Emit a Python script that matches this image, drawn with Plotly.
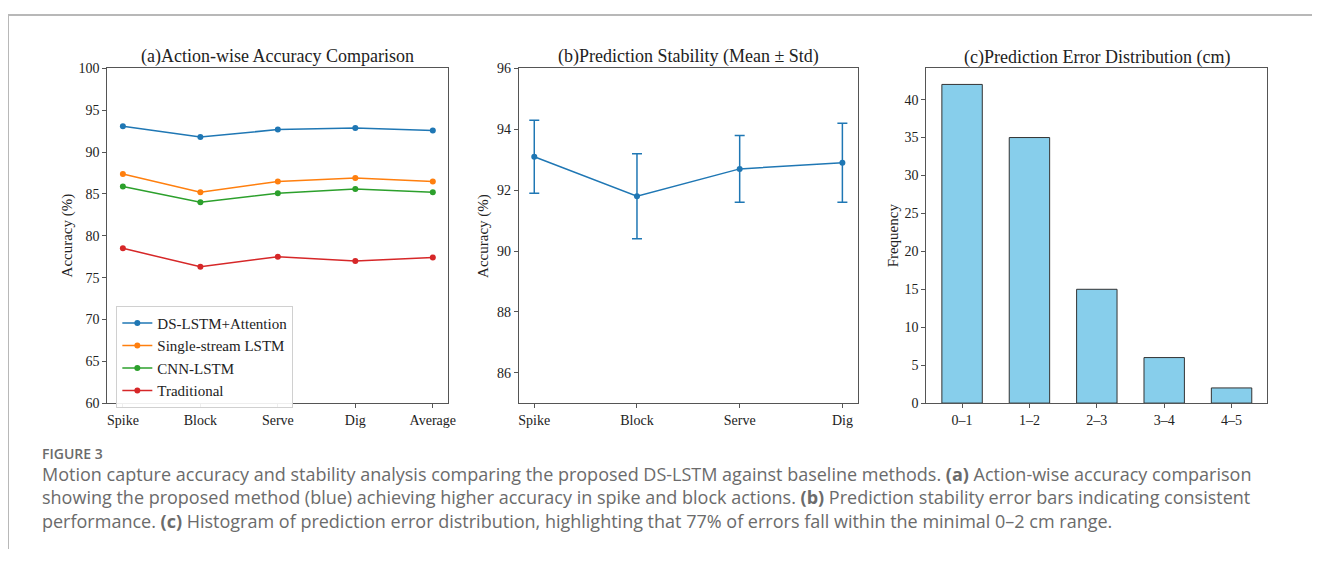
import plotly.graph_objects as go

# ---------------- data ----------------
actions_a = ["Spike", "Block", "Serve", "Dig", "Average"]
ds_lstm_att = [93.1, 91.8, 92.7, 92.9, 92.6]
single_lstm = [87.4, 85.2, 86.5, 86.9, 86.5]
cnn_lstm = [85.9, 84.0, 85.1, 85.6, 85.2]
traditional = [78.5, 76.3, 77.5, 77.0, 77.4]
series_names = ["DS-LSTM+Attention", "Single-stream LSTM", "CNN-LSTM", "Traditional"]

actions_b = ["Spike", "Block", "Serve", "Dig"]
stab_mean = [93.1, 91.8, 92.7, 92.9]
stab_std = [1.2, 1.4, 1.1, 1.3]

err_bins = ["0–1", "1–2", "2–3", "3–4", "4–5"]
err_freq = [42, 35, 15, 6, 2]

caption_head = "FIGURE 3"
caption_lines = [
    "Motion capture accuracy and stability analysis comparing the proposed DS-LSTM against baseline methods. <b>(a)</b> Action-wise accuracy comparison",
    "showing the proposed method (blue) achieving higher accuracy in spike and block actions. <b>(b)</b> Prediction stability error bars indicating consistent",
    "performance. <b>(c)</b> Histogram of prediction error distribution, highlighting that 77% of errors fall within the minimal 0–2 cm range.",
]

# ---------------- layout helpers ----------------
# page body has an 8px margin; figure is sized so page = 1328x565
OFF = 8
W, H = 1328 - 2 * OFF, 565 - 2 * OFF
def px(x):
    return (x - OFF) / W
def py(y):
    return 1 - (y - OFF) / H

colors = ["#1f77b4", "#ff7f0e", "#2ca02c", "#d62728"]
SERIF = "Liberation Serif, Times New Roman, serif"
SPINE = "#555555"

fig = go.Figure()

# panel (a)
for name, vals, c in zip(series_names, [ds_lstm_att, single_lstm, cnn_lstm, traditional], colors):
    fig.add_trace(go.Scatter(
        x=list(range(len(actions_a))), y=vals, name=name, mode="lines+markers",
        line=dict(color=c, width=1.5), marker=dict(color=c, size=6),
        xaxis="x", yaxis="y", showlegend=True,
    ))

# panel (b)
fig.add_trace(go.Scatter(
    x=list(range(len(actions_b))), y=stab_mean, mode="lines+markers",
    line=dict(color=colors[0], width=1.5), marker=dict(color=colors[0], size=6),
    error_y=dict(type="data", array=stab_std, visible=True, color=colors[0], thickness=1.5, width=5),
    xaxis="x2", yaxis="y2", showlegend=False,
))

# panel (c)
fig.add_trace(go.Bar(
    x=list(range(len(err_bins))), y=err_freq, width=0.6,
    marker=dict(color="#87CEEB", line=dict(color="#333333", width=1)),
    xaxis="x3", yaxis="y3", showlegend=False,
))

ydom = [py(407), py(63)]
axis_common = dict(
    showline=True, linecolor=SPINE, linewidth=1, mirror=True,
    ticks="outside", ticklen=4, tickcolor=SPINE, tickwidth=1,
    showgrid=False, zeroline=False,
    tickfont=dict(family=SERIF, size=14, color="#222222"),
)

fig.update_layout(
    width=W, height=H,
    margin=dict(l=0, r=0, t=0, b=0),
    paper_bgcolor="white", plot_bgcolor="white",
    xaxis=dict(domain=[px(108), px(451)], range=[-0.2, 4.2], tickmode="array",
               tickvals=list(range(len(actions_a))), ticktext=actions_a, anchor="y", **axis_common),
    yaxis=dict(domain=ydom, range=[60, 100], tickmode="array",
               tickvals=[60, 65, 70, 75, 80, 85, 90, 95, 100], anchor="x", **axis_common),
    xaxis2=dict(domain=[px(522), px(863)], range=[-0.15, 3.15], tickmode="array",
                tickvals=list(range(len(actions_b))), ticktext=actions_b, anchor="y2", **axis_common),
    yaxis2=dict(domain=ydom, range=[85, 96], tickmode="array",
                tickvals=[86, 88, 90, 92, 94, 96], anchor="x2", **axis_common),
    xaxis3=dict(domain=[px(932), px(1275)], range=[-0.53, 4.53], tickmode="array",
                tickvals=list(range(len(err_bins))), ticktext=err_bins, anchor="y3", **axis_common),
    yaxis3=dict(domain=ydom, range=[0, 44.1], tickmode="array",
                tickvals=[0, 5, 10, 15, 20, 25, 30, 35, 40], anchor="x3", **axis_common),
    legend=dict(
        x=px(117), y=py(307), xanchor="left", yanchor="top",
        bgcolor="rgba(255,255,255,0.9)", bordercolor="#d0d0d0", borderwidth=1,
        font=dict(family=SERIF, size=15, color="#222222"),
        tracegroupgap=0, itemwidth=30,
    ),
    showlegend=True,
)

annotations = []
titles = [
    ("(a)Action-wise Accuracy Comparison", (108 + 451) / 2, 51),
    ("(b)Prediction Stability (Mean ± Std)", (522 + 863) / 2, 51),
    ("(c)Prediction Error Distribution (cm)", (932 + 1275) / 2, 52),
]
for t, x, y in titles:
    annotations.append(dict(text=t, x=px(x), y=py(y), xref="paper", yref="paper",
                            xanchor="center", yanchor="middle", showarrow=False,
                            font=dict(family=SERIF, size=18, color="#222222")))
ytitles = [("Accuracy (%)", 68), ("Accuracy (%)", 487), ("Frequency", 898)]
for t, x in ytitles:
    annotations.append(dict(text=t, x=px(x), y=py(235), xref="paper", yref="paper",
                            xanchor="center", yanchor="middle", showarrow=False, textangle=-90,
                            font=dict(family=SERIF, size=15, color="#222222")))

SANS = "Open Sans, Noto Sans, sans-serif"
annotations.append(dict(text=caption_head, x=px(40), y=py(459), xref="paper", yref="paper",
                        xanchor="left", yanchor="middle", showarrow=False,
                        font=dict(family=SANS, size=14, color="#6b6b6b", weight=600)))
for i, line in enumerate(caption_lines):
    annotations.append(dict(text=line, x=px(40), y=py(480 + 24 * i), xref="paper", yref="paper",
                            xanchor="left", yanchor="middle", showarrow=False,
                            font=dict(family=SANS, size=18, color="#6b6b6b")))

fig.update_layout(annotations=annotations)

# page frame lines (top and left)
fig.add_shape(type="line", xref="paper", yref="paper", x0=0, x1=1, y0=1, y1=1,
              line=dict(color="#b8b8b8", width=2))
fig.add_shape(type="line", xref="paper", yref="paper", x0=0, x1=0, y0=1, y1=0,
              line=dict(color="#b8b8b8", width=2))

fig.write_html("out.html")
